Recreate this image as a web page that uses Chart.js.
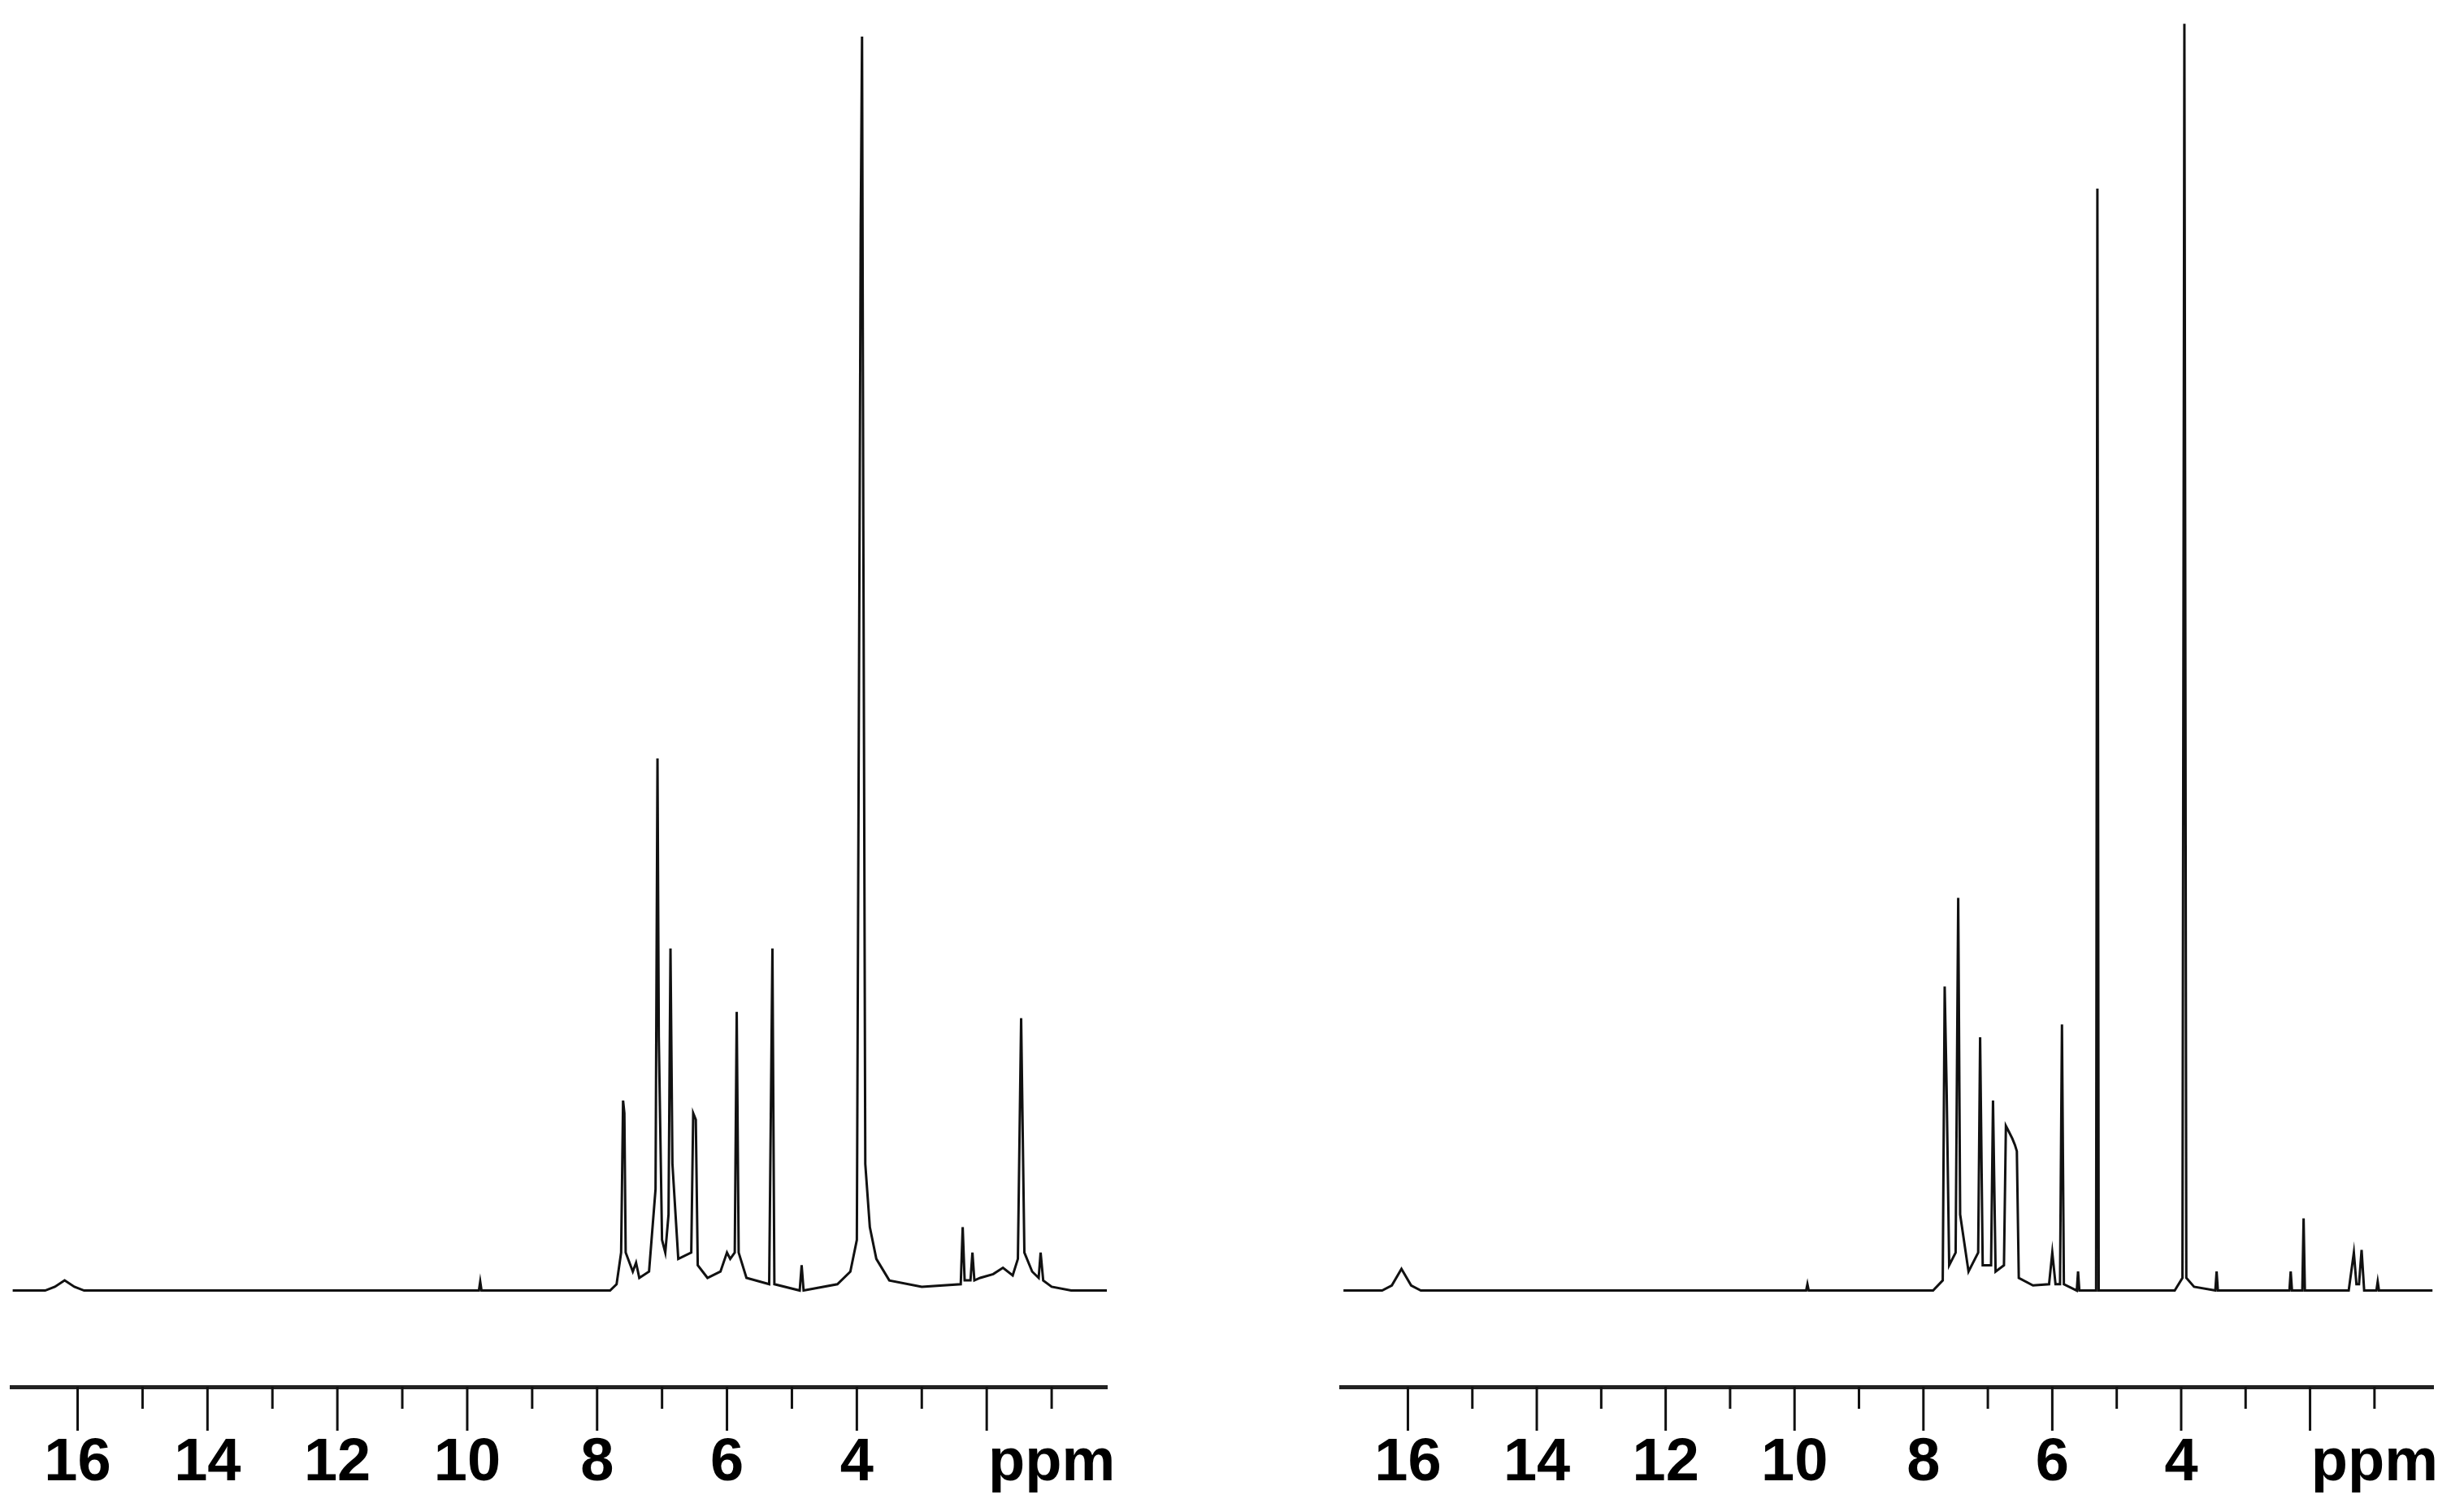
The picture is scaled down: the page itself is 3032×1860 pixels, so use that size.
<!DOCTYPE html>
<html><head><meta charset="utf-8">
<script src="https://cdn.jsdelivr.net/npm/chart.js@4/dist/chart.umd.min.js"></script>
<style>body{margin:0;background:#fff;width:3032px;height:1860px;overflow:hidden;position:relative}
.c{position:absolute;top:0;height:1860px;width:1460px}</style></head>
<body>
<div class="c" style="left:0"><canvas id="a"></canvas></div>
<div class="c" style="left:1600px"><canvas id="b"></canvas></div>
<script>
const leftPPM=[17.0,16.5,16.35,16.2,16.05,15.9,9.82,9.8,9.78,7.8,7.7,7.63,7.6,7.58,7.56,7.45,7.4,7.35,7.2,7.1,7.07,7.05,7.0,6.95,6.9,6.87,6.84,6.75,6.55,6.52,6.48,6.45,6.3,6.1,6.0,5.95,5.88,5.85,5.82,5.7,5.35,5.3,5.27,4.88,4.85,4.82,4.3,4.1,4.0,3.94,3.92,3.9,3.87,3.8,3.7,3.5,3.0,2.4,2.37,2.34,2.25,2.22,2.19,2.1,1.9,1.75,1.6,1.52,1.47,1.42,1.3,1.2,1.17,1.13,1.0,0.7,0.15];
const leftInt=[0,0,0.3,0.8,0.3,0,0,0.7,0,0,0.5,3,15,14,3,1.5,2.2,1,1.5,8,42,20,4,3,6,27,10,2.5,3,14,13.5,2,1,1.5,3,2.5,3,22,3,1,0.5,27,0.5,0,2,0,0.5,1.5,4,84,99,60,10,5,2.5,0.8,0.3,0.5,5,0.8,0.8,3,0.8,1,1.3,1.8,1.2,2.5,21.5,3,1.5,1,3,0.8,0.3,0,0];
const rightPPM=[17.0,16.4,16.25,16.1,15.95,15.8,9.82,9.8,9.78,7.85,7.7,7.67,7.64,7.6,7.5,7.46,7.43,7.3,7.15,7.12,7.08,6.95,6.92,6.88,6.75,6.72,6.67,6.62,6.58,6.55,6.52,6.3,6.05,6.0,5.95,5.88,5.85,5.82,5.62,5.6,5.58,5.32,5.3,5.28,4.1,3.98,3.95,3.92,3.8,3.47,3.45,3.43,2.32,2.3,2.28,2.12,2.1,2.08,1.4,1.32,1.28,1.24,1.2,1.16,0.97,0.95,0.93,0.1];
const rightInt=[0,0,0.4,1.7,0.4,0,0,0.5,0,0,0.8,24,16,2,3,31,6,1.5,3,20,2,2,15,1.5,2,13,12.5,12,11.5,11,1,0.4,0.5,3,0.5,0.5,21,0.5,0,1.5,0,0,87,0,0,1,100,1,0.3,0,1.5,0,0,1.5,0,0,5.7,0,0,3,0.5,0.5,3.2,0,0,0.7,0,0];
const tickValues=[1,2,3,4,5,6,7,8,9,10,11,12,13,14,15,16];
const labeled=[4,6,8,10,12,14,16];
const unitLabel='ppm';

function make(id,xs,ys,xmin,xmax,padL,padR){
  const ticksPlugin={id:'tk',afterDraw(ch){
    const s=ch.scales.x,ctx=ch.ctx,b=ch.chartArea.bottom;
    ctx.save();ctx.strokeStyle='#111';ctx.lineWidth=3;
    tickValues.forEach(v=>{const x=s.getPixelForValue(v);const L=v%2===0?54:27;
      ctx.beginPath();ctx.moveTo(x,b);ctx.lineTo(x,b+L);ctx.stroke();});
    ctx.restore();}};
  new Chart(document.getElementById(id),{type:'line',
    data:{datasets:[{data:xs.map((x,i)=>({x:x,y:ys[i]})),borderColor:'#111',borderWidth:3,pointRadius:0,tension:0}]},
    options:{responsive:true,maintainAspectRatio:false,animation:false,
      layout:{padding:{left:padL,right:padR,top:20,bottom:-36}},
      plugins:{legend:{display:false},tooltip:{enabled:false}},
      scales:{
        y:{display:false,min:-7.6,max:100.6},
        x:{type:'linear',reverse:true,min:xmin,max:xmax,
          afterBuildTicks(ax){ax.ticks=tickValues.map(v=>({value:v}));},
          grid:{display:false,drawTicks:false},
          border:{display:true,color:'#222',width:5},
          ticks:{autoSkip:false,maxRotation:0,padding:58,color:'#000',
            font:{family:"'Liberation Sans Narrow','Liberation Sans',Arial",size:74,weight:'bold',lineHeight:1},
            callback:v=>labeled.includes(v)?String(v):(v===1?unitLabel:'')}}}},
    plugins:[ticksPlugin]});
}
make('a',leftPPM,leftInt,0.15,17.02,14,98);
make('b',rightPPM,rightInt,0.09,17.04,50,66);
</script></body></html>
